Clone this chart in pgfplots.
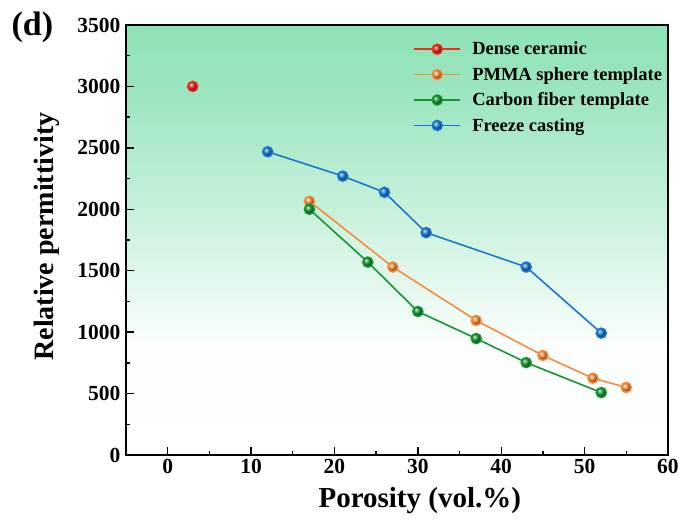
\documentclass[border=0pt]{standalone}
\usepackage{pgfplots}
\pgfplotsset{compat=1.18}
\usepackage{fontspec}
\setmainfont{Liberation Serif}
\definecolor{bggreen}{RGB}{142,226,182}
\definecolor{cred}{RGB}{230,30,30}
\definecolor{corange}{RGB}{246,140,60}
\definecolor{cgreen}{RGB}{22,150,50}
\definecolor{cblue}{RGB}{26,120,210}
\pgfdeclareverticalshading{bgshade}{100bp}{color(0bp)=(white); color(25bp)=(white); color(38bp)=(white!96!bggreen); color(52bp)=(bggreen!45!white); color(66bp)=(bggreen!85!white); color(75bp)=(bggreen); color(100bp)=(bggreen)}
\begin{document}
\begin{tikzpicture}
\useasboundingbox (-126pt,-66pt) rectangle (553pt,455pt);
\begin{axis}[
  at={(0pt,0pt)}, anchor=south west,
  scale only axis, width=542pt, height=430pt,
  xmin=-5, xmax=60, ymin=0, ymax=3500,
  xtick={0,10,...,60}, ytick={0,500,...,3500},
  minor xtick={-5,5,15,...,55}, minor ytick={250,750,...,3250},
  tick pos=left, tick align=inside,
  major tick length=8pt, minor tick length=4pt,
  every tick/.style={black, line width=1.4pt},
  axis line style={line width=1.8pt},
  /pgf/number format/assume math mode=true,
  /pgf/number format/1000 sep={},
  ticklabel style={font=\fontsize{21.5}{21.5}\selectfont\bfseries},
  xticklabel style={yshift=-1pt},
  yticklabel style={xshift=-2pt},
  xlabel={Porosity (vol.\%)}, ylabel={Relative permittivity},
  label style={font=\fontsize{28}{28}\selectfont\bfseries},
  xlabel style={at={(axis description cs:0.542,-0.123)}, anchor=base, font=\fontsize{29}{29}\selectfont\bfseries},
  ylabel style={at={(axis description cs:-0.146,0.508)}, anchor=center},
  axis background/.style={shading=bgshade},
  legend style={draw=none, fill=none, at={(0.53,0.97)}, anchor=north west,
    font=\fontsize{18.5}{18.5}\selectfont\bfseries, row sep=7pt,
    legend cell align=left, inner xsep=0pt},
  legend image code/.code={\draw[mark repeat=2,mark phase=2] plot coordinates {(0pt,0pt) (23pt,0pt) (46pt,0pt)}; \path[draw=none,fill=none] (0pt,0pt) (56pt,0pt);},
  every axis plot/.append style={line width=1.6pt},
]
\addplot[cred!80!orange, mark=ball, mark size=5pt, mark options={ball color=cred}] coordinates {(3,3000)};
\addlegendentry{Dense ceramic}
\addplot[corange, mark=ball, mark size=5pt, mark options={ball color=corange}] coordinates {
(17,2065) (27,1530) (37,1095) (45,810) (51,625) (55,550)};
\addlegendentry{PMMA sphere template}
\addplot[cgreen, mark=ball, mark size=5pt, mark options={ball color=cgreen}] coordinates {
(17,2000) (24,1570) (30,1168) (37,948) (43,752) (52,508)};
\addlegendentry{Carbon fiber template}
\addplot[cblue, mark=ball, mark size=5pt, mark options={ball color=cblue}] coordinates {
(12,2468) (21,2270) (26,2138) (31,1810) (43,1530) (52,992)};
\addlegendentry{Freeze casting}
\end{axis}
\node[anchor=west, font=\fontsize{34}{34}\selectfont\bfseries] at (-118pt,428pt) {(d)};
\end{tikzpicture}
\end{document}
